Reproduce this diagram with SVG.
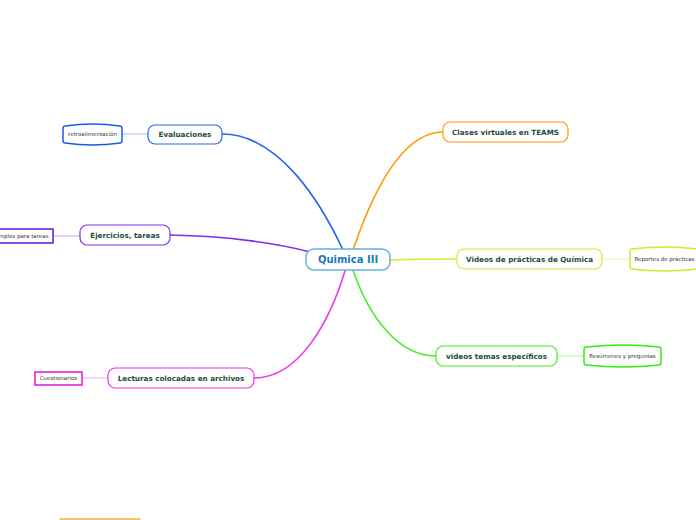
<svg xmlns="http://www.w3.org/2000/svg" width="696" height="520" viewBox="0 0 696 520">
<style>
.t{font-family:"DejaVu Sans",Verdana,sans-serif;font-weight:bold;font-size:7.2px;fill:#1e4d3c;text-anchor:middle}
.s{font-family:"DejaVu Sans",Verdana,sans-serif;font-size:5.5px;fill:#3a3a3a;text-anchor:middle}
.c{fill:none;stroke-linecap:round}
.n{fill:#fff;stroke-width:1.2}
</style>
<rect width="696" height="520" fill="#fff"/>
<g id="connectors">
<path class="c" d="M222,134 C280,134 322,205 343,250" stroke="#2266ee" stroke-width="1.6"/>
<path class="c" d="M170,235 C230,236 280,244 310,252" stroke="#7a2ef0" stroke-width="1.6"/>
<path class="c" d="M353,250 C370,200 400,132 443,132" stroke="#ff9900" stroke-width="1.6"/>
<path class="c" d="M390,260 C420,259 440,259 457,259" stroke="#ccee33" stroke-width="1.6"/>
<path class="c" d="M353,270 C370,320 400,356 436,356" stroke="#44ee22" stroke-width="1.6"/>
<path class="c" d="M345,271 C330,320 300,378 254,378" stroke="#ee33ee" stroke-width="1.6"/>
<path class="c" d="M122,134 L148,134" stroke="#a8bff5" stroke-width="1"/>
<path class="c" d="M53,236 L80,236" stroke="#c8aaf5" stroke-width="1"/>
<path class="c" d="M82,378 L108,378" stroke="#f5aaf5" stroke-width="1"/>
<path class="c" d="M602,259 L630,259" stroke="#e6f5aa" stroke-width="1"/>
<path class="c" d="M557,356 L584,356" stroke="#aaf5aa" stroke-width="1"/>
<path class="c" d="M60,519 L140,519" stroke="#f4b04a" stroke-width="1.5"/>
</g>
<g id="central">
<rect x="306" y="249" width="84" height="21" rx="8" fill="#fff" stroke="#6aaee0" stroke-width="1.5"/>
<text x="348" y="263" style="font-family:'DejaVu Sans',Verdana,sans-serif;font-weight:bold;font-size:10px;fill:#1a7ab8;text-anchor:middle">Quimica III</text>
</g>
<g id="evaluaciones">
<rect class="n" x="148" y="125" width="74" height="19" rx="7" stroke="#2266ee"/>
<text class="t" x="185" y="137">Evaluaciones</text>
</g>
<g id="retroalimentacion">
<path d="M65,126 Q92.5,122 120,126 Q122,126 122,129 L122,140 Q122,143 120,143 Q92.5,147 65,143 Q63,143 63,140 L63,129 Q63,126 65,126 Z" fill="#fff" stroke="#1a5ae8" stroke-width="1.5"/>
<text class="s" x="92.5" y="136.4">retroalimentación</text>
</g>
<g id="ejercicios">
<rect class="n" x="80" y="225" width="90" height="20" rx="7" stroke="#7a2ef0"/>
<text class="t" x="125" y="237.5">Ejercicios, tareas</text>
</g>
<g id="ejemplos">
<rect x="-20" y="229" width="73" height="14" fill="#fff" stroke="#6a22e0" stroke-width="1.6"/>
<text class="s" x="48.5" y="237.9" style="text-anchor:end">mplos para tareas</text>
</g>
<g id="lecturas">
<rect class="n" x="108" y="368" width="146" height="20" rx="7" stroke="#ee33ee"/>
<text class="t" x="181" y="380.5">Lecturas colocadas en archivos</text>
</g>
<g id="cuestionarios">
<rect x="35" y="372" width="47" height="13" fill="#fff" stroke="#e022e0" stroke-width="1.6"/>
<text class="s" x="58.5" y="380.4">Cuestionarios</text>
</g>
<g id="clases">
<rect class="n" x="443" y="122" width="125" height="20" rx="7" stroke="#ff9900"/>
<text class="t" x="505.5" y="134.5">Clases virtuales en TEAMS</text>
</g>
<g id="videos-practicas">
<rect class="n" x="457" y="249" width="145" height="20" rx="7" stroke="#ccee33"/>
<text class="t" x="529.5" y="261.5">Videos de prácticas de Química</text>
</g>
<g id="reportes">
<path d="M632,249 Q665,245 698,249 Q700,249 700,252 L700,266 Q700,269 698,269 Q665,273 632,269 Q630,269 630,266 L630,252 Q630,249 632,249 Z" fill="#fff" stroke="#ccee22" stroke-width="1.5"/>
<text class="s" x="664.5" y="260.9">Reportes de prácticas</text>
</g>
<g id="videos-temas">
<rect class="n" x="436" y="346" width="121" height="20" rx="7" stroke="#44ee22"/>
<text class="t" x="496.5" y="358.5">videos temas específicos</text>
</g>
<g id="resumenes">
<path d="M586,347 Q622.5,343 659,347 Q661,347 661,350 L661,362 Q661,365 659,365 Q622.5,369 586,365 Q584,365 584,362 L584,350 Q584,347 586,347 Z" fill="#fff" stroke="#33ee11" stroke-width="1.5"/>
<text class="s" x="622.5" y="357.9">Resúmenes y preguntas</text>
</g>
</svg>
